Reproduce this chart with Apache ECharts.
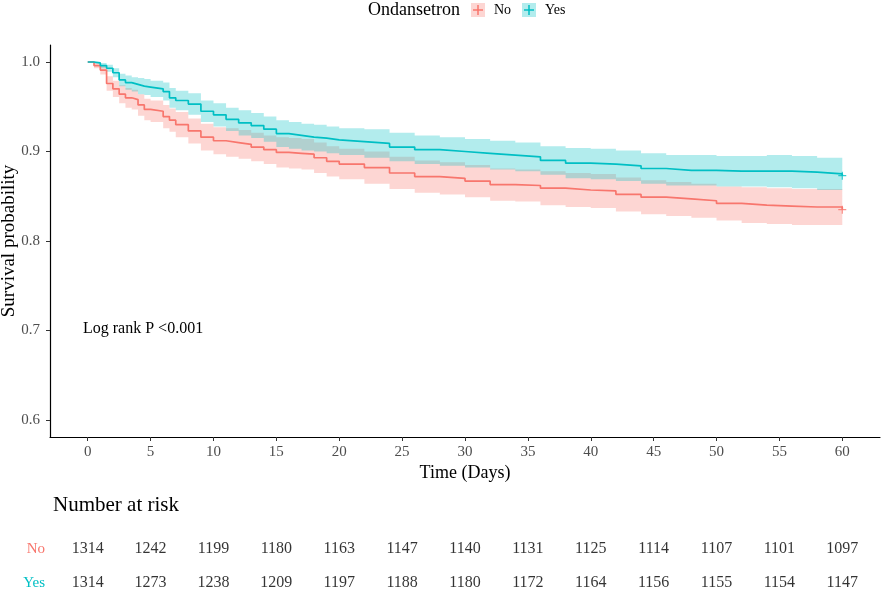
<!DOCTYPE html>
<html>
<head>
<meta charset="utf-8">
<script src="https://cdn.jsdelivr.net/npm/echarts@6/dist/echarts.min.js"></script>
<style>
  html, body { margin: 0; padding: 0; background: #fff; }
  #km { width: 886px; height: 591px; }
</style>
</head>
<body>
<div id="km"></div>
<script>
// time points (days) shared by both curves
const times = [0, 0.5, 1, 1.5, 2, 2.5, 3, 3.5, 4, 4.5, 5, 6, 6.5, 7, 8, 9, 10, 11, 12, 13, 14, 15,
  16, 17, 18, 19, 20, 22, 24, 26, 28, 30, 32, 34, 36, 38, 40, 42, 44, 46, 48, 50, 52, 54, 56, 58, 60];

// Ondansetron = No
const survNo = [1.000, 0.996, 0.991, 0.976, 0.970, 0.964, 0.960, 0.958, 0.952, 0.947, 0.945, 0.939, 0.935, 0.930,
  0.923, 0.916, 0.912, 0.910, 0.908, 0.905, 0.902, 0.899, 0.898, 0.897, 0.893, 0.889, 0.886, 0.882, 0.876, 0.872,
  0.870, 0.867, 0.863, 0.862, 0.859, 0.857, 0.856, 0.852, 0.849, 0.847, 0.845, 0.842, 0.840, 0.839, 0.838, 0.838, 0.835];
const lowerNo = [1.000, 0.993, 0.986, 0.968, 0.961, 0.954, 0.949, 0.947, 0.940, 0.935, 0.933, 0.926, 0.922, 0.916,
  0.909, 0.901, 0.897, 0.894, 0.892, 0.889, 0.886, 0.882, 0.881, 0.880, 0.876, 0.872, 0.869, 0.864, 0.858, 0.854,
  0.852, 0.849, 0.845, 0.844, 0.840, 0.838, 0.837, 0.833, 0.830, 0.828, 0.826, 0.823, 0.820, 0.819, 0.818, 0.818, 0.815];
const upperNo = [1.000, 0.999, 0.996, 0.984, 0.979, 0.974, 0.971, 0.969, 0.964, 0.959, 0.957, 0.952, 0.948, 0.944,
  0.937, 0.931, 0.927, 0.926, 0.924, 0.921, 0.918, 0.916, 0.915, 0.914, 0.910, 0.906, 0.903, 0.900, 0.894, 0.890,
  0.888, 0.885, 0.881, 0.880, 0.878, 0.876, 0.875, 0.871, 0.868, 0.866, 0.864, 0.861, 0.860, 0.859, 0.858, 0.858, 0.855];

// Ondansetron = Yes
const survYes = [1.000, 0.999, 0.996, 0.993, 0.988, 0.980, 0.977, 0.975, 0.973, 0.972, 0.970, 0.967, 0.960, 0.957,
  0.953, 0.945, 0.941, 0.936, 0.932, 0.929, 0.925, 0.920, 0.918, 0.916, 0.915, 0.913, 0.911, 0.909, 0.905, 0.902,
  0.900, 0.898, 0.896, 0.894, 0.890, 0.887, 0.886, 0.884, 0.881, 0.879, 0.879, 0.878, 0.878, 0.878, 0.877, 0.875, 0.873];
const lowerYes = [1.000, 0.998, 0.993, 0.989, 0.983, 0.973, 0.969, 0.967, 0.964, 0.963, 0.961, 0.957, 0.949, 0.946,
  0.941, 0.933, 0.928, 0.923, 0.918, 0.915, 0.911, 0.905, 0.903, 0.901, 0.900, 0.898, 0.896, 0.893, 0.889, 0.886,
  0.884, 0.882, 0.880, 0.878, 0.874, 0.870, 0.869, 0.867, 0.864, 0.862, 0.862, 0.861, 0.861, 0.860, 0.859, 0.857, 0.855];
const upperYes = [1.000, 1.000, 0.999, 0.997, 0.993, 0.987, 0.985, 0.983, 0.982, 0.981, 0.979, 0.977, 0.971, 0.968,
  0.965, 0.957, 0.954, 0.949, 0.946, 0.943, 0.939, 0.935, 0.933, 0.931, 0.930, 0.928, 0.926, 0.925, 0.921, 0.918,
  0.916, 0.914, 0.912, 0.910, 0.906, 0.904, 0.903, 0.901, 0.898, 0.896, 0.896, 0.895, 0.895, 0.896, 0.895, 0.893, 0.891];

// axis ticks
const xTicks = [0, 5, 10, 15, 20, 25, 30, 35, 40, 45, 50, 55, 60];
const yTicks = [0.6, 0.7, 0.8, 0.9, 1.0];

// number at risk table
const groups = ['No', 'Yes'];
const riskTimes = [0, 5, 10, 15, 20, 25, 30, 35, 40, 45, 50, 55, 60];
const riskNo = [1314, 1242, 1199, 1180, 1163, 1147, 1140, 1131, 1125, 1114, 1107, 1101, 1097];
const riskYes = [1314, 1273, 1238, 1209, 1197, 1188, 1180, 1172, 1164, 1156, 1155, 1154, 1147];

const RED = '#F8766D', TEAL = '#00BFC4';
const RED_FILL = 'rgba(248,118,109,0.3)', TEAL_FILL = 'rgba(0,191,196,0.3)';
const FONT = 'Liberation Serif';

const pairs = (ys) => times.map((t, i) => [t, ys[i]]);
const plus = 'path://M0,3.4h8v1.2h-8z M3.4,0h1.2v8h-1.2z';

const chart = echarts.init(document.getElementById('km'));

// confidence band as a stepped polygon (upper edge forward, lower edge back)
function band(lo, hi, fill) {
  return {
    type: 'custom', silent: true, z: 2,
    data: [0],
    renderItem: function (params, api) {
      const pts = [];
      for (let i = 0; i < times.length; i++) {
        pts.push(api.coord([times[i], hi[i]]));
        if (i < times.length - 1) pts.push(api.coord([times[i + 1], hi[i]]));
      }
      for (let i = times.length - 1; i >= 0; i--) {
        if (i < times.length - 1) pts.push(api.coord([times[i + 1], lo[i]]));
        pts.push(api.coord([times[i], lo[i]]));
      }
      return { type: 'polygon', shape: { points: pts }, style: { fill: fill } };
    }
  };
}

const riskData = [];
riskTimes.forEach((t, i) => {
  riskData.push([t, 0, riskNo[i]]);
  riskData.push([t, 1, riskYes[i]]);
});

option = {
  animation: false,
  textStyle: { fontFamily: FONT },
  grid: [
    { left: 50, top: 45, width: 830, height: 392, outerBoundsMode: 'none', containLabel: false },
    { left: 50, top: 532, width: 830, height: 51, outerBoundsMode: 'none', containLabel: false }
  ],
  xAxis: [
    {
      type: 'value', min: -3, max: 63,
      name: 'Time (Days)', nameLocation: 'middle', nameGap: 27, nameMoveOverlap: false,
      nameTextStyle: { fontSize: 18, color: '#000', fontFamily: FONT },
      splitLine: { show: false },
      axisLine: { onZero: false, lineStyle: { color: '#000', width: 1.2 } },
      axisTick: { customValues: xTicks, length: 4, lineStyle: { color: '#333' } },
      axisLabel: { customValues: xTicks, color: '#4d4d4d', fontSize: 15, margin: 8, fontFamily: FONT }
    },
    { gridIndex: 1, type: 'value', min: -3, max: 63, show: false }
  ],
  yAxis: [
    {
      type: 'value', min: 0.581, max: 1.019,
      name: 'Survival probability', nameLocation: 'middle', nameGap: 31, nameMoveOverlap: false,
      nameTextStyle: { fontSize: 19, color: '#000', fontFamily: FONT },
      splitLine: { show: false },
      axisLine: { show: true, onZero: false, lineStyle: { color: '#000', width: 1.2 } },
      axisTick: { show: true, customValues: yTicks, length: 4, lineStyle: { color: '#333' } },
      axisLabel: { customValues: yTicks, color: '#4d4d4d', fontSize: 15, margin: 10, fontFamily: FONT,
        formatter: (v) => v.toFixed(1) }
    },
    {
      gridIndex: 1, type: 'value', min: -0.5, max: 1, inverse: true,
      splitLine: { show: false }, axisLine: { show: false }, axisTick: { show: false },
      axisLabel: {
        customValues: [0, 1], margin: 5, fontSize: 15, fontFamily: FONT,
        formatter: (v) => '{' + groups[v] + '|' + groups[v] + '}',
        rich: { No: { color: RED, fontSize: 15, fontFamily: FONT }, Yes: { color: TEAL, fontSize: 15, fontFamily: FONT } }
      }
    }
  ],
  series: [
    band(lowerNo, upperNo, RED_FILL),
    band(lowerYes, upperYes, TEAL_FILL),
    { name: 'No', type: 'line', step: 'end', symbol: 'none', data: pairs(survNo),
      lineStyle: { color: RED, width: 1.7 }, z: 5 },
    { name: 'Yes', type: 'line', step: 'end', symbol: 'none', data: pairs(survYes),
      lineStyle: { color: TEAL, width: 1.7 }, z: 5 },
    { type: 'scatter', symbol: plus, symbolSize: 8, z: 6,
      data: [
        { value: [times[times.length - 1], survNo[survNo.length - 1]], itemStyle: { color: RED } },
        { value: [times[times.length - 1], survYes[survYes.length - 1]], itemStyle: { color: TEAL } }
      ] },
    { type: 'scatter', xAxisIndex: 1, yAxisIndex: 1, symbolSize: 1, silent: true,
      itemStyle: { color: 'rgba(0,0,0,0)' },
      label: { show: true, position: 'inside', color: '#000', fontSize: 16, fontFamily: FONT,
        formatter: (p) => String(p.data[2]) },
      data: riskData }
  ],
  graphic: [
    { type: 'text', left: 83, top: 321, style: { text: 'Log rank P <0.001', fontSize: 16, fill: '#000', fontFamily: FONT } },
    { type: 'text', left: 53, top: 495, style: { text: 'Number at risk', fontSize: 21, fill: '#000', fontFamily: FONT } },
    { type: 'text', x: 460, y: 10, style: { text: 'Ondansetron', fontSize: 18, fill: '#000', fontFamily: FONT,
      align: 'right', verticalAlign: 'middle' } },
    { type: 'rect', shape: { x: 471, y: 3, width: 14, height: 14 }, style: { fill: RED_FILL } },
    { type: 'line', shape: { x1: 473, y1: 10, x2: 483, y2: 10 }, style: { stroke: RED, lineWidth: 1.5 } },
    { type: 'line', shape: { x1: 478, y1: 5, x2: 478, y2: 15 }, style: { stroke: RED, lineWidth: 1.5 } },
    { type: 'text', x: 494, y: 10, style: { text: 'No', fontSize: 14, fill: '#000', fontFamily: FONT, verticalAlign: 'middle' } },
    { type: 'rect', shape: { x: 522, y: 3, width: 14, height: 14 }, style: { fill: TEAL_FILL } },
    { type: 'line', shape: { x1: 524, y1: 10, x2: 534, y2: 10 }, style: { stroke: TEAL, lineWidth: 1.5 } },
    { type: 'line', shape: { x1: 529, y1: 5, x2: 529, y2: 15 }, style: { stroke: TEAL, lineWidth: 1.5 } },
    { type: 'text', x: 545, y: 10, style: { text: 'Yes', fontSize: 14, fill: '#000', fontFamily: FONT, verticalAlign: 'middle' } }
  ]
};

chart.setOption(option);
</script>
</body>
</html>
